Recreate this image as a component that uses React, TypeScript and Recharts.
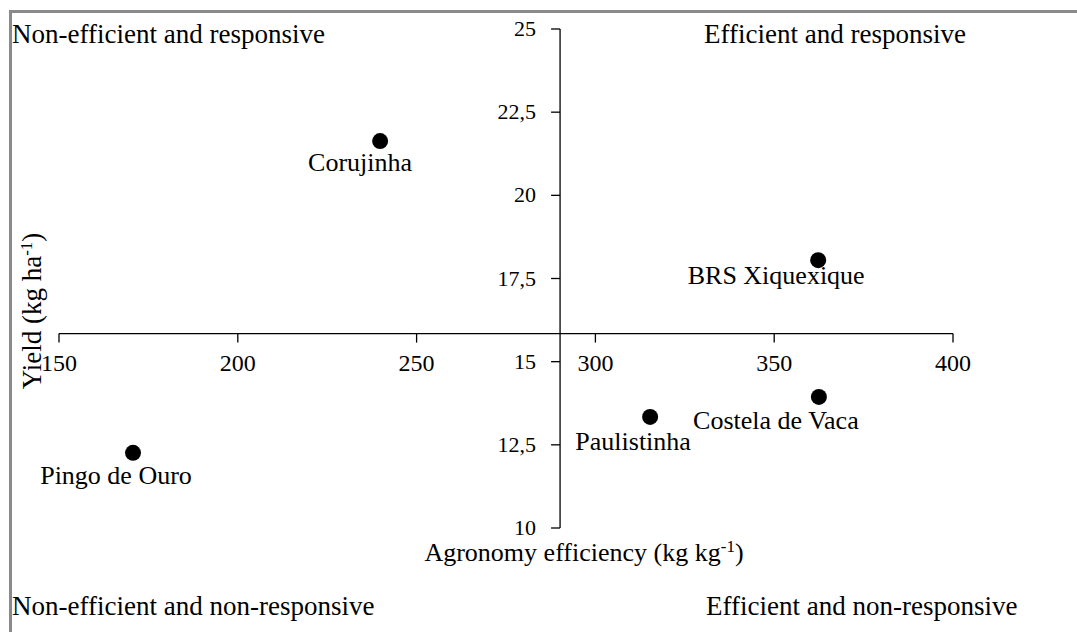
import React from 'react';
import { ScatterChart, Scatter, XAxis, YAxis, ReferenceLine, ReferenceDot } from 'recharts';

const genotypes = ['Pingo de Ouro', 'Corujinha', 'Paulistinha', 'Costela de Vaca', 'BRS Xiquexique'];
const efficiency = [170.7, 239.8, 315.3, 362.5, 362.3];
const yields = [12.26, 21.63, 13.34, 13.94, 18.05];
const xTicks = [150, 200, 250, 300, 350, 400];
const yTicks = [10, 12.5, 15, 17.5, 20, 22.5, 25];
const quadrantLabels = ['Non-efficient and responsive', 'Efficient and responsive', 'Non-efficient and non-responsive', 'Efficient and non-responsive'];

// label offsets (px) relative to each point
const labelOffsets: Record<string, [number, number]> = {
  'Pingo de Ouro': [-17, 31],
  'Corujinha': [-20, 30],
  'Paulistinha': [-17, 33],
  'Costela de Vaca': [-43, 32],
  'BRS Xiquexique': [-42, 24],
};

const data = genotypes.map((name, i) => ({ name, x: efficiency[i], y: yields[i] }));
const meanX = efficiency.reduce((a, b) => a + b, 0) / efficiency.length;
const meanY = yields.reduce((a, b) => a + b, 0) / yields.length;

const SERIF: React.CSSProperties = { fontFamily: "'Liberation Serif', 'Times New Roman', serif" };
const fmt = (v: number) => String(v).replace('.', ',');

const PointShape = (props: any) => {
  const { cx, cy, payload } = props;
  const off = labelOffsets[payload.name] || [0, 28];
  return (
    <g>
      <circle cx={cx} cy={cy} r={8} fill="#000" />
      <text x={cx + off[0]} y={cy + off[1]} textAnchor="middle" style={SERIF} fontSize={26} fill="#000">
        {payload.name}
      </text>
    </g>
  );
};

export default function App() {
  return (
    <div style={{ position: 'absolute', left: 0, top: 0, width: 1077, height: 632, background: '#fff', overflow: 'hidden' }}>
      <div style={{ position: 'absolute', left: 9, top: 10, width: 1068, height: 622, borderTop: '3px solid #8a8a8a', borderLeft: '3px solid #8a8a8a', boxSizing: 'border-box' }} />
      <ScatterChart width={1077} height={632} margin={{ top: 29, right: 124, bottom: 104, left: 59 }} style={SERIF}>
        <XAxis type="number" dataKey="x" domain={[150, 400]} ticks={xTicks} hide />
        <YAxis type="number" dataKey="y" domain={[10, 25]} ticks={yTicks} hide />
        <ReferenceLine segment={[{ x: 150, y: meanY }, { x: 400, y: meanY }]} stroke="#000" strokeWidth={1.3} ifOverflow="visible" />
        <ReferenceLine segment={[{ x: meanX, y: 10 }, { x: meanX, y: 25 }]} stroke="#000" strokeWidth={1.3} ifOverflow="visible" />
        {xTicks.map((t) => (
          <ReferenceDot
            key={'xt' + t}
            x={t}
            y={meanY}
            r={0}
            ifOverflow="visible"
            shape={(p: any) => (
              <g>
                <line x1={p.cx} y1={p.cy} x2={p.cx} y2={p.cy + 9} stroke="#000" strokeWidth={1.3} />
                <text x={p.cx} y={p.cy + 37} textAnchor="middle" style={SERIF} fontSize={24} fill="#000">{fmt(t)}</text>
              </g>
            )}
          />
        ))}
        {yTicks.map((t) => (
          <ReferenceDot
            key={'yt' + t}
            x={meanX}
            y={t}
            r={0}
            ifOverflow="visible"
            shape={(p: any) => (
              <g>
                <line x1={p.cx - 9} y1={p.cy} x2={p.cx} y2={p.cy} stroke="#000" strokeWidth={1.3} />
                <text x={p.cx - 24} y={p.cy + 7} textAnchor="end" style={SERIF} fontSize={22} fill="#000">{fmt(t)}</text>
              </g>
            )}
          />
        ))}
        <Scatter data={data} isAnimationActive={false} shape={PointShape} />
      </ScatterChart>
      <svg width={1077} height={632} style={{ position: 'absolute', left: 0, top: 0, pointerEvents: 'none' }}>
        <g style={SERIF} fontSize={27} fill="#000">
          <text x={12} y={43}>{quadrantLabels[0]}</text>
          <text x={704} y={43}>{quadrantLabels[1]}</text>
          <text x={12} y={615}>{quadrantLabels[2]}</text>
          <text x={706} y={615}>{quadrantLabels[3]}</text>
          <text x={584} y={561} textAnchor="middle" fontSize={26}>
            Agronomy efficiency (kg kg<tspan fontSize={17} dy={-9}>-1</tspan><tspan dy={9}>)</tspan>
          </text>
          <text x={41} y={311} textAnchor="middle" fontSize={27} transform="rotate(-90 41 311)">
            Yield (kg ha<tspan fontSize={17} dy={-9}>-1</tspan><tspan dy={9}>)</tspan>
          </text>
        </g>
      </svg>
    </div>
  );
}
